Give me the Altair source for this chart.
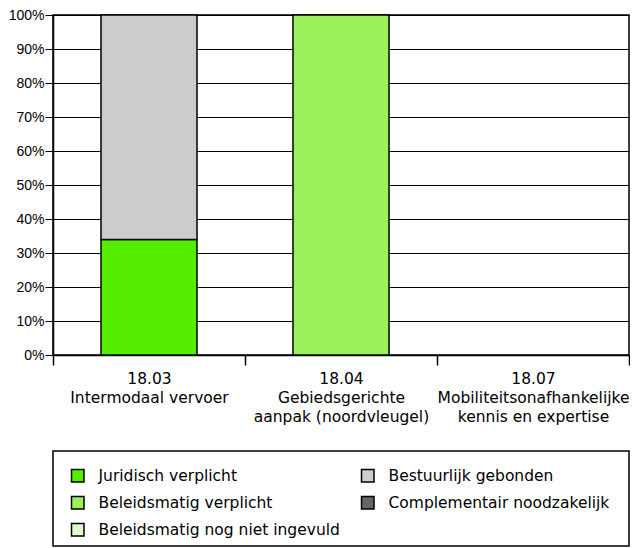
import altair as alt
import pandas as pd

categories = [
    "18.03|Intermodaal vervoer",
    "18.04|Gebiedsgerichte|aanpak (noordvleugel)",
    "18.07|Mobiliteitsonafhankelijke|kennis en expertise",
]
series = [
    "Juridisch verplicht",
    "Beleidsmatig verplicht",
    "Beleidsmatig nog niet ingevuld",
    "Bestuurlijk gebonden",
    "Complementair noodzakelijk",
]
colors = ["#55EE00", "#9CF25C", "#DDFBCF", "#CCCCCC", "#666666"]

juridisch = [0.34, 0.0, 0.0]
beleid_verplicht = [0.0, 1.0, 0.0]
beleid_nog_niet = [0.0, 0.0, 0.0]
bestuurlijk = [0.66, 0.0, 0.0]
complementair = [0.0, 0.0, 0.0]

values_by_series = [juridisch, beleid_verplicht, beleid_nog_niet, bestuurlijk, complementair]

rows = []
for s_i, (name, vals) in enumerate(zip(series, values_by_series)):
    for c, v in zip(categories, vals):
        if v > 0:
            rows.append({"cat": c, "series": name, "value": v, "stack": s_i})
df = pd.DataFrame(rows)

FONT = "DejaVu Sans"
NUMFONT = "Liberation Sans"
FS = 15.5
W = 576
H = 340

bars = alt.Chart(df).mark_bar(
    stroke="black", strokeWidth=1.5, width=alt.RelativeBandSize(0.5)
).encode(
    x=alt.X(
        "cat:N",
        scale=alt.Scale(domain=categories, paddingInner=0, paddingOuter=0),
        axis=alt.Axis(
            title=None, labelAngle=0, labelExpr="split(datum.label, '|')",
            tickBand="extent", tickSize=10, labelPadding=6, labelBaseline="top",
            labelLineHeight=19, labelLimit=400, labelOverlap=False, labelBound=False,
            labelFlush=False, domainColor="black", domainWidth=1.5, tickColor="black",
            tickWidth=1.5, labelFontSize=FS, labelColor="black", labelFont=FONT, grid=False,
        ),
    ),
    y=alt.Y(
        "value:Q", stack="zero",
        scale=alt.Scale(domain=[0, 1], nice=False),
        axis=alt.Axis(
            title=None, format=".0%",
            values=[0, 0.1, 0.2, 0.3, 0.4, 0.5, 0.6, 0.7, 0.8, 0.9, 1.0],
            grid=True, gridColor="black", gridWidth=1, tickSize=8, tickColor="black",
            labelPadding=1, domainColor="black", domainWidth=1.5,
            labelFontSize=14, labelColor="black", labelFont=NUMFONT,
        ),
    ),
    color=alt.Color(
        "series:N",
        scale=alt.Scale(domain=series, range=colors),
        legend=alt.Legend(
            title=None, orient="none", legendX=17, legendY=453, columns=2,
            columnPadding=18, rowPadding=8, symbolType="square", symbolSize=156,
            symbolStrokeColor="black", symbolStrokeWidth=1.5, symbolOpacity=1,
            labelFontSize=FS, labelColor="black", labelFont=FONT, labelLimit=400,
            labelOffset=13, padding=0,
        ),
    ),
    order=alt.Order("stack:Q"),
)

frame = alt.Chart(pd.DataFrame({"k": [0]})).mark_rect(
    fillOpacity=0, stroke="black", strokeWidth=1.5
).encode(
    x=alt.value(0), x2=alt.value(W), y=alt.value(436), y2=alt.value(531)
)

chart = alt.layer(frame, bars).properties(
    width=W, height=H,
    padding={"left": 45, "top": 7, "right": 1, "bottom": 193},
    autosize=alt.AutoSizeParams(type="none"),
).configure_view(stroke="black", strokeWidth=1.5)

chart.save("out.html", embed_options={"renderer": "svg", "actions": False})
